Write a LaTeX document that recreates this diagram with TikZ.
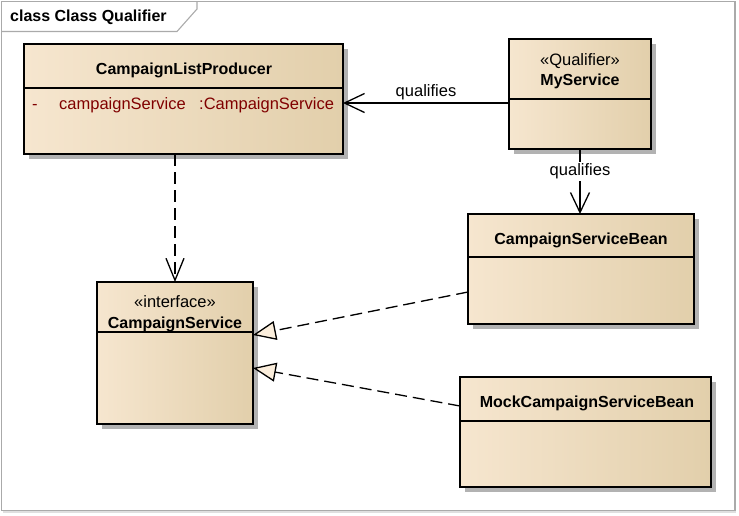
\documentclass[tikz,border=0pt]{standalone}
\usepackage{fontspec}
\setmainfont{Liberation Sans}
\usetikzlibrary{arrows.meta,calc}
\definecolor{boxL}{RGB}{246,230,207}
\definecolor{boxM}{RGB}{251,240,226}
\definecolor{boxR}{RGB}{226,207,171}
\definecolor{shadowc}{RGB}{178,178,178}
\definecolor{framec}{RGB}{170,170,170}
\definecolor{attrc}{RGB}{128,0,0}
\definecolor{tric}{RGB}{251,238,220}
\tikzset{
  umlbox/.style={draw=black, line width=1.4pt, left color=boxL, middle color=boxM, right color=boxR, shading angle=90, inner sep=0pt, outer sep=0pt, anchor=north west},
  divline/.style={draw=black, line width=1.2pt},
  boldtxt/.style={font=\fontsize{16}{18}\selectfont\bfseries, inner sep=0pt, anchor=base},
  regtxt/.style={font=\fontsize{16.5}{18}\selectfont, inner sep=0pt, anchor=base},
  attrtxt/.style={font=\fontsize{16.5}{18}\selectfont, text=attrc, inner sep=0pt, anchor=base west},
  conn/.style={draw=black, line width=1.3pt},
  openarrow/.style={-{Straight Barb[length=20pt,width=19pt,line width=1.3pt]}},
  realiz/.style={dash pattern=on 12pt off 6pt, -{Triangle[open, length=23pt, width=19pt, fill=tric, line width=1.3pt]}},
  depend/.style={dash pattern=on 12pt off 6pt, -{Straight Barb[length=22pt,width=18pt,line width=1.3pt]}},
  lbl/.style={font=\fontsize{16.5}{18}\selectfont, inner sep=1pt, anchor=base},
}
\newcommand\umlclass[5]{%
  \fill[shadowc] (#2+5,#3+5) rectangle ++(#4,#5);
  \node[umlbox, minimum width=#4pt, minimum height=#5pt] (#1) at (#2,#3) {};
}
\begin{document}
\begin{tikzpicture}[x=1pt,y=-1pt]
\useasboundingbox (0,0) rectangle (739,515);
% frame
\draw[gray!25, line width=2pt] (2.5,511.5) -- (736,511.5);
\draw[framec, line width=1.1pt] (1.5,1.5) rectangle (735,510.5);
\draw[framec, line width=1.1pt] (1.5,31.5) -- (177,31.5) -- (197,9) -- (197,1.5);
\node[font=\fontsize{16}{18}\selectfont\bfseries, inner sep=0pt, anchor=base west] (heading) at (10,21) {class Class Qualifier};

% classes
\umlclass{clp}{24}{44}{319}{110}
\draw[divline] ($(clp.north west)+(0,44)$) -- ($(clp.north east)+(0,44)$);
\node[boldtxt] (clpT) at (184,74) {CampaignListProducer};
\node[attrtxt] (clpA1) at (32,109) {-};
\node[attrtxt] (clpA2) at (59,109) {campaignService};
\node[attrtxt] (clpA3) at (199,109) {:CampaignService};

\umlclass{ms}{509}{39}{142}{110}
\draw[divline] ($(ms.north west)+(0,60)$) -- ($(ms.north east)+(0,60)$);
\node[regtxt] (msS) at (580,65) {«Qualifier»};
\node[boldtxt] (msT) at (580,85) {MyService};

\umlclass{csb}{468}{214}{226}{110}
\draw[divline] ($(csb.north west)+(0,43)$) -- ($(csb.north east)+(0,43)$);
\node[boldtxt] (csbT) at (581,244) {CampaignServiceBean};

\umlclass{cs}{97}{282}{156}{142}
\draw[divline] ($(cs.north west)+(0,50)$) -- ($(cs.north east)+(0,50)$);
\node[regtxt] (csS) at (175,307.5) {«interface»};
\node[boldtxt] (csT) at (175,328) {CampaignService};

\umlclass{mcsb}{460}{377}{251}{110}
\draw[divline] ($(mcsb.north west)+(0,44)$) -- ($(mcsb.north east)+(0,44)$);
\node[boldtxt] (mcsbT) at (587,407.5) {MockCampaignServiceBean};

% connectors
\draw[conn, openarrow] ($(ms.north west)+(0,64)$) -- ($(clp.north east)+(0,59)$)
  node[lbl, pos=0.5, yshift=7pt] (q1) {qualifies};
\draw[conn, openarrow] (ms.south) -- (ms.south |- csb.north)
  node[lbl, pos=0.33, fill=white, yshift=-5.5pt, inner sep=1.5pt] (q2) {qualifies};
\draw[conn, depend] (cs.north |- clp.south) -- (cs.north);
\draw[conn, realiz] ($(csb.south west)+(0,-32)$) -- ($(cs.north east)+(0,53)$);
\draw[conn, realiz] ($(mcsb.north west)+(0,29)$) -- ($(cs.north east)+(0,86)$);
\end{tikzpicture}
\end{document}
